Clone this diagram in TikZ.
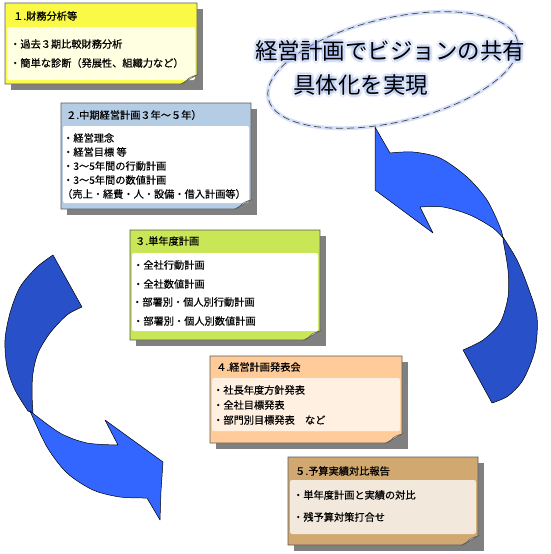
\documentclass[tikz,border=0pt]{standalone}
\usepackage{fontspec}
\newfontfamily\jp[FakeBold=0.5]{Noto Sans CJK JP}
\newfontfamily\jpt{Noto Sans CJK JP}
\definecolor{hyellow}{RGB}{250,250,70}
\definecolor{pyellow}{RGB}{255,255,226}
\definecolor{hblue}{RGB}{180,204,228}
\definecolor{hgreen}{RGB}{200,230,85}
\definecolor{hpeach}{RGB}{255,204,153}
\definecolor{ppeach}{RGB}{255,240,225}
\definecolor{htan}{RGB}{208,168,112}
\definecolor{ptan}{RGB}{242,232,220}
\definecolor{boxline}{RGB}{90,90,90}
\definecolor{shadowgray}{RGB}{128,128,128}
\definecolor{arrowdark}{RGB}{40,80,200}
\definecolor{arrowlight}{RGB}{51,102,255}
\definecolor{glow}{RGB}{140,170,240}
\definecolor{dashgray}{RGB}{70,70,70}
\newcommand\stickybox[8]{%
  \fill[shadowgray] ({#1+6},{#2+6}) rectangle ({#3+6},{#4+6});
  \filldraw[fill=#7, draw=boxline, line width=0.6pt] (#1,#2) -- (#3,#2) -- (#3,{#4-9}) -- ({#3-16},#4) -- (#1,#4) -- cycle;
  \fill[#8, rounded corners=2pt] ({#1+2},#5) rectangle ({#3-2},#6);
  \filldraw[fill=#8, draw=boxline, line width=0.5pt] (#3,{#4-9}) .. controls ({#3-5},{#4-8}) and ({#3-9},{#4-6}) .. ({#3-11},{#4-3}) .. controls ({#3-12},{#4-1}) .. ({#3-16},#4) -- cycle;
}
\begin{document}
\begin{tikzpicture}[x=1pt,y=-1pt,
  txt/.style={anchor=west, inner sep=0pt, font={\jp\fontsize{10.2pt}{12pt}\selectfont}},
  titletxt/.style={anchor=west, inner sep=0pt, font={\jpt\fontsize{22.5pt}{26pt}\selectfont}},
  arrowpart/.style={draw=black, line width=0.5pt, line join=round}]
\fill[white] (0,0) rectangle (550,554);
\useasboundingbox (0,0) rectangle (550,554);

% ---- title ellipse ----
\draw[glow, opacity=0.35, line width=4pt, rotate around={13:(393,70)}] (393,70) ellipse [x radius=128pt, y radius=52pt];
\draw[dashgray, line width=0.7pt, dash pattern=on 7pt off 4pt, rotate around={13:(393,70)}] (393,70) ellipse [x radius=128pt, y radius=52pt];

% ---- left arrow ----
\filldraw[arrowpart, fill=arrowdark]
  plot[smooth] coordinates {(53,255) (37,267) (20,287) (10,313) (5,340) (7,367) (15,390) (28,411)}
  -- plot[smooth] coordinates {(33,413) (32,393) (33,373) (38,353) (50,333) (67,315) (82,307)}
  -- cycle;
\filldraw[arrowpart, fill=arrowlight]
  plot[smooth] coordinates {(30,411) (60,433) (87,443) (118,445)}
  -- (105,420) -- (163,462) -- (161,491) -- (160,520) -- (147,498)
  -- plot[smooth] coordinates {(147,498) (120,497) (93,490) (67,473) (47,447) (30,411)}
  -- cycle;

% ---- right arrow ----
\filldraw[arrowpart, fill=arrowlight]
  plot[smooth] coordinates {(390,153) (413,152) (440,158) (467,177) (487,200) (500,227) (503,238)}
  -- plot[smooth] coordinates {(503,238) (493,228) (470,215) (443,207) (420,207)}
  -- (433,233) -- (375,190) -- (375,127) -- cycle;
\filldraw[arrowpart, fill=arrowdark]
  plot[smooth] coordinates {(503,237) (517,260) (528,287) (537,317) (535,350) (523,380) (508,396) (492,403)}
  -- (463,350)
  -- plot[smooth] coordinates {(463,350) (483,340) (500,323) (508,297) (508,270) (503,240)}
  -- cycle;

% ---- boxes ----
\stickybox{5}{3}{197}{84}{27}{80}{hyellow}{pyellow}
\node[txt] (b1t) at (13,16) {１.財務分析等};
\node[txt] (b1a) at (10,44) {・過去３期比較財務分析};
\node[txt] (b1b) at (10,63) {・簡単な診断（発展性、組織力など）};

\stickybox{61}{103}{251}{209}{126}{203}{hblue}{white}
\node[txt] (b2t) at (66,115) {２.中期経営計画３年～５年）};
\node[txt] (b2a) at (63,138) {・経営理念};
\node[txt] (b2b) at (63,152) {・経営目標 等};
\node[txt] (b2c) at (63,166) {・3～5年間の行動計画};
\node[txt] (b2d) at (63,180) {・3～5年間の数値計画};
\node[txt] (b2e) at (62,194) {（売上・経費・人・設備・借入計画等）};

\stickybox{130}{230}{320}{340}{253}{331}{hgreen}{white}
\node[txt] (b3t) at (135,241) {３.単年度計画};
\node[txt] (b3a) at (133,265) {・全社行動計画};
\node[txt] (b3b) at (133,284) {・全社数値計画};
\node[txt] (b3c) at (132,302) {・部署別・個人別行動計画};
\node[txt] (b3d) at (133,321) {・部署別・個人別数値計画};

\stickybox{210}{356}{402}{443}{378}{431}{hpeach}{ppeach}
\node[txt] (b4t) at (216,367) {４.経営計画発表会};
\node[txt] (b4a) at (213,390) {・社長年度方針発表};
\node[txt] (b4b) at (213,405) {・全社目標発表};
\node[txt] (b4c) at (213,420) {・部門別目標発表　など};

\stickybox{288}{457}{478}{545}{480}{534}{htan}{ptan}
\node[txt] (b5t) at (295,471) {５.予算実績対比報告};
\node[txt] (b5a) at (293,495) {・単年度計画と実績の対比};
\node[txt] (b5b) at (293,517) {・残予算対策打合せ};

% ---- title text with glow ----
\foreach \a in {0,45,...,315} {
  \node[titletxt, text=glow, opacity=0.22, shift={(\a:3)}] (g1\a) at (255,51) {経営計画でビジョンの共有};
  \node[titletxt, text=glow, opacity=0.22, shift={(\a:3)}] (g2\a) at (293,85) {具体化を実現};
}
\node[titletxt] (title1) at (255,51) {経営計画でビジョンの共有};
\node[titletxt] (title2) at (293,85) {具体化を実現};
\end{tikzpicture}
\end{document}
